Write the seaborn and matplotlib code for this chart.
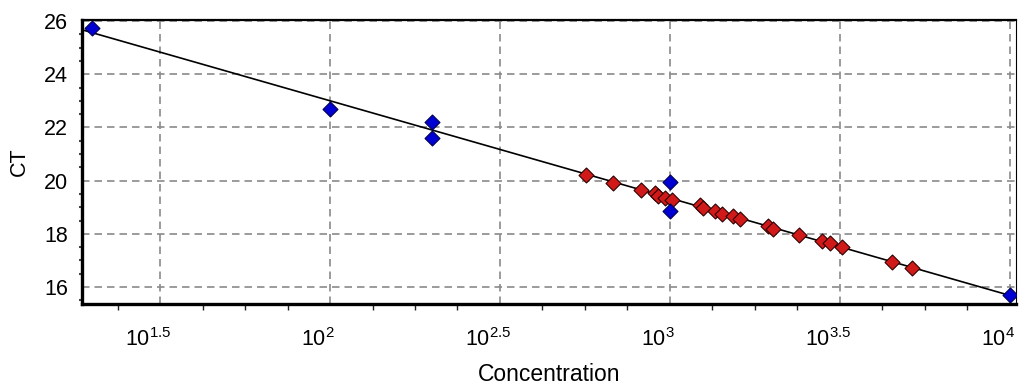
import numpy as np
import pandas as pd
import matplotlib
matplotlib.use("Agg")
import matplotlib.pyplot as plt
from matplotlib.ticker import FixedLocator, FixedFormatter, MultipleLocator, NullFormatter
from matplotlib.transforms import ScaledTranslation
import seaborn as sns

# Standards: known concentrations and measured CT values
std_conc = [20, 100, 200, 200, 1000, 1000, 10000]
std_ct = [25.74, 22.70, 22.20, 21.60, 19.95, 18.86, 15.68]

# Unknown samples, placed on the standard curve
sample_log_conc = [2.753, 2.832, 2.915, 2.956, 2.965, 2.985, 3.006, 3.088, 3.097,
                   3.132, 3.153, 3.185, 3.206, 3.288, 3.303, 3.379, 3.447, 3.470,
                   3.506, 3.653, 3.712]
sample_ct = [20.21, 19.91, 19.65, 19.53, 19.42, 19.35, 19.27, 19.08, 18.97,
             18.86, 18.74, 18.67, 18.56, 18.29, 18.18, 17.95, 17.73, 17.65,
             17.50, 16.94, 16.71]

major_exp = [1.5, 2.0, 2.5, 3.0, 3.5, 4.0]
major_labels = [r"$10^{1.5}$", r"$10^{2}$", r"$10^{2.5}$", r"$10^{3}$",
                r"$10^{3.5}$", r"$10^{4}$"]

sns.set_style("white")
plt.rcParams["font.family"] = ["Liberation Sans", "DejaVu Sans"]
plt.rcParams["mathtext.fontset"] = "custom"
plt.rcParams["mathtext.rm"] = "Liberation Sans"
plt.rcParams["mathtext.it"] = "Liberation Sans"
for key in ("text.color", "axes.labelcolor", "xtick.color", "ytick.color"):
    plt.rcParams[key] = "black"

std_df = pd.DataFrame({"Concentration": std_conc, "CT": std_ct})
smp_df = pd.DataFrame({"Concentration": np.power(10.0, sample_log_conc), "CT": sample_ct})

fig = plt.figure(figsize=(10.19, 3.85), dpi=100)
ax = fig.add_axes([0.0805, 0.2104, 0.9165, 0.7376])
ax.set_xscale("log")
xlim = (10 ** 1.2706, 10 ** 4.0176)
ax.set_xlim(*xlim)
ax.set_ylim(15.36, 26.04)

# Least-squares standard curve: CT vs log10(concentration)
slope, intercept = np.polyfit(np.log10(std_conc), std_ct, 1)
fit_x = np.array(xlim)
fit_y = slope * np.log10(fit_x) + intercept
sns.lineplot(x=fit_x, y=fit_y, ax=ax, color="black", linewidth=1.2, zorder=3)

sns.scatterplot(data=smp_df, x="Concentration", y="CT", ax=ax, marker="D", s=58,
                color="#d01a1a", edgecolor="#300000", linewidth=0.8, zorder=4)
sns.scatterplot(data=std_df, x="Concentration", y="CT", ax=ax, marker="D", s=58,
                color="#0000d2", edgecolor="#000050", linewidth=0.8, zorder=5)

ax.xaxis.set_major_locator(FixedLocator([10 ** e for e in major_exp]))
ax.xaxis.set_major_formatter(FixedFormatter(major_labels))
minor_exp = [1.25 + 0.125 * k for k in range(24)]
ax.xaxis.set_minor_locator(FixedLocator([10 ** e for e in minor_exp if e not in major_exp]))
ax.xaxis.set_minor_formatter(NullFormatter())
ax.yaxis.set_major_locator(MultipleLocator(2))
ax.yaxis.set_minor_locator(MultipleLocator(0.5))

ax.grid(True, which="major", color="#8a8a8a", linestyle=(0, (4.5, 3)), linewidth=1.2)
ax.set_axisbelow(True)

ax.tick_params(axis="both", which="major", direction="out", length=5, width=1,
               labelsize=15.5, color="black", pad=5)
ax.tick_params(axis="x", which="minor", direction="out", length=4, width=1,
               color="#222222", bottom=True)
ax.tick_params(axis="y", which="minor", direction="out", length=2, width=1.5,
               color="#444444", left=True)
ax.tick_params(axis="x", which="major", pad=12)

for side, lw in (("left", 2.4), ("bottom", 2.4), ("top", 1.6), ("right", 0.8)):
    ax.spines[side].set_visible(True)
    ax.spines[side].set_color("black")
    ax.spines[side].set_linewidth(lw)

ax.set_xlabel("Concentration", fontsize=16.5, labelpad=9)
ax.set_ylabel("CT", fontsize=15.5, labelpad=10)

# Exponent sits over the tick: nudge the decade labels to the left
shift = ScaledTranslation(-0.12, 0, fig.dpi_scale_trans)
for lbl in ax.get_xticklabels():
    lbl.set_transform(lbl.get_transform() + shift)

fig.savefig("out.png", dpi=100, facecolor="white")
